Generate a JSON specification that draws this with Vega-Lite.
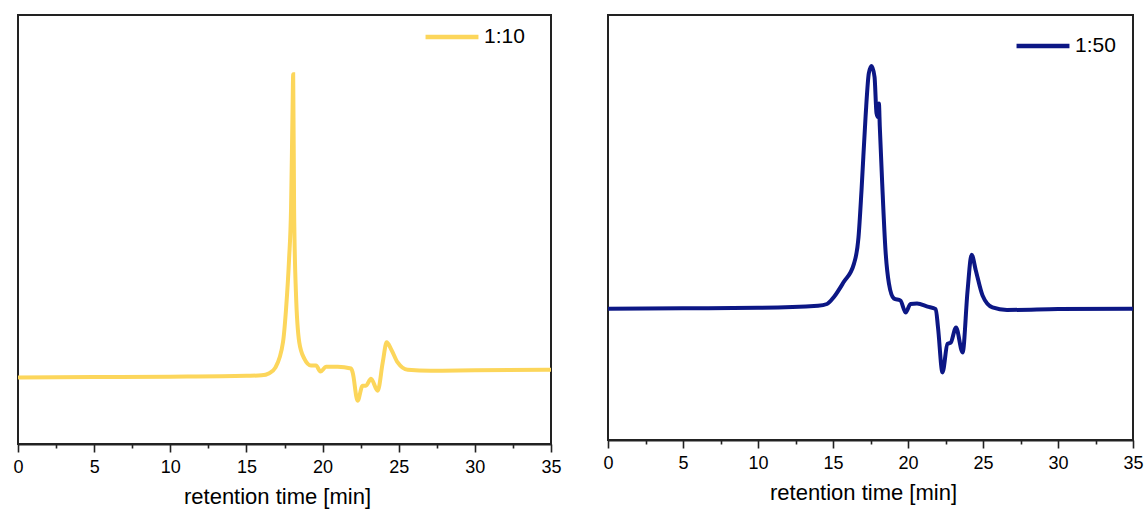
{
  "$schema": "https://vega.github.io/schema/vega-lite/v6.json",
  "padding": {"left": 9, "top": 7, "right": 2, "bottom": 2},
  "bounds": "flush",
  "spacing": 57,
  "background": "white",
  "datasets": {
    "d": [
      {"s": "1:10", "t": 0, "v": 15.5},
      {"s": "1:10", "t": 5, "v": 15.6},
      {"s": "1:10", "t": 10, "v": 15.7},
      {"s": "1:10", "t": 15, "v": 15.9},
      {"s": "1:10", "t": 16, "v": 16.0},
      {"s": "1:10", "t": 16.5, "v": 16.5},
      {"s": "1:10", "t": 16.9, "v": 17.8},
      {"s": "1:10", "t": 17.4, "v": 23.7},
      {"s": "1:10", "t": 17.6, "v": 31.4},
      {"s": "1:10", "t": 17.8, "v": 43.1},
      {"s": "1:10", "t": 17.93, "v": 54.8},
      {"s": "1:10", "t": 18.03, "v": 78.2},
      {"s": "1:10", "t": 18.07, "v": 86.2},
      {"s": "1:10", "t": 18.13, "v": 54.8},
      {"s": "1:10", "t": 18.25, "v": 35.4},
      {"s": "1:10", "t": 18.47, "v": 23.7},
      {"s": "1:10", "t": 18.8, "v": 19.9},
      {"s": "1:10", "t": 19.24, "v": 18.3},
      {"s": "1:10", "t": 19.57, "v": 18.3},
      {"s": "1:10", "t": 19.86, "v": 16.9},
      {"s": "1:10", "t": 20.23, "v": 18.0},
      {"s": "1:10", "t": 20.99, "v": 18.0},
      {"s": "1:10", "t": 21.87, "v": 17.6},
      {"s": "1:10", "t": 21.98, "v": 16.6},
      {"s": "1:10", "t": 22.3, "v": 10.1},
      {"s": "1:10", "t": 22.63, "v": 13.6},
      {"s": "1:10", "t": 22.85, "v": 13.6},
      {"s": "1:10", "t": 23.18, "v": 15.2},
      {"s": "1:10", "t": 23.62, "v": 12.4},
      {"s": "1:10", "t": 23.95, "v": 19.0},
      {"s": "1:10", "t": 24.21, "v": 23.7},
      {"s": "1:10", "t": 24.5, "v": 22.1},
      {"s": "1:10", "t": 24.93, "v": 19.0},
      {"s": "1:10", "t": 25.59, "v": 17.3},
      {"s": "1:10", "t": 27.1, "v": 17.1},
      {"s": "1:10", "t": 30, "v": 17.2},
      {"s": "1:10", "t": 35, "v": 17.3},
      {"s": "1:50", "t": 0, "v": 30.9},
      {"s": "1:50", "t": 5, "v": 31.0},
      {"s": "1:50", "t": 10, "v": 31.1},
      {"s": "1:50", "t": 14, "v": 31.6},
      {"s": "1:50", "t": 14.6, "v": 32.0},
      {"s": "1:50", "t": 15.05, "v": 33.6},
      {"s": "1:50", "t": 15.7, "v": 37.1},
      {"s": "1:50", "t": 16.4, "v": 41.5},
      {"s": "1:50", "t": 16.7, "v": 47.7},
      {"s": "1:50", "t": 16.9, "v": 58.7},
      {"s": "1:50", "t": 17.17, "v": 76.0},
      {"s": "1:50", "t": 17.39, "v": 86.3},
      {"s": "1:50", "t": 17.57, "v": 88.0},
      {"s": "1:50", "t": 17.77, "v": 85.4},
      {"s": "1:50", "t": 17.9, "v": 76.9},
      {"s": "1:50", "t": 17.99, "v": 76.0},
      {"s": "1:50", "t": 18.06, "v": 79.2},
      {"s": "1:50", "t": 18.12, "v": 73.7},
      {"s": "1:50", "t": 18.28, "v": 60.4},
      {"s": "1:50", "t": 18.5, "v": 44.6},
      {"s": "1:50", "t": 18.73, "v": 36.8},
      {"s": "1:50", "t": 19.06, "v": 33.3},
      {"s": "1:50", "t": 19.5, "v": 32.8},
      {"s": "1:50", "t": 19.84, "v": 30.0},
      {"s": "1:50", "t": 20.17, "v": 32.0},
      {"s": "1:50", "t": 20.6, "v": 32.1},
      {"s": "1:50", "t": 21.3, "v": 31.4},
      {"s": "1:50", "t": 21.85, "v": 30.8},
      {"s": "1:50", "t": 22.0, "v": 26.5},
      {"s": "1:50", "t": 22.3, "v": 15.9},
      {"s": "1:50", "t": 22.63, "v": 22.6},
      {"s": "1:50", "t": 22.85, "v": 22.9},
      {"s": "1:50", "t": 23.2, "v": 26.5},
      {"s": "1:50", "t": 23.64, "v": 20.6},
      {"s": "1:50", "t": 23.97, "v": 35.1},
      {"s": "1:50", "t": 24.24, "v": 43.6},
      {"s": "1:50", "t": 24.52, "v": 39.9},
      {"s": "1:50", "t": 24.97, "v": 34.0},
      {"s": "1:50", "t": 25.63, "v": 31.2},
      {"s": "1:50", "t": 26.6, "v": 30.6},
      {"s": "1:50", "t": 30, "v": 30.8},
      {"s": "1:50", "t": 35, "v": 30.9}
    ]
  },
  "config": {
    "view": {"stroke": "#222222", "strokeWidth": 2},
    "axis": {
      "grid": false,
      "domainColor": "#222222",
      "domainWidth": 2,
      "tickColor": "#222222",
      "tickWidth": 1.6,
      "labelColor": "black",
      "titleColor": "black",
      "labelFont": "Liberation Sans",
      "titleFont": "Liberation Sans",
      "labelFontSize": 18,
      "titleFontSize": 22,
      "titleFontWeight": "normal",
      "labelFlush": false,
      "labelOverlap": false
    }
  },
  "resolve": {"scale": {"color": "independent"}, "legend": {"color": "independent"}},
  "hconcat": [
    {
      "width": 533,
      "height": 429,
      "data": {"name": "d"},
      "transform": [{"filter": "datum.s === '1:10'"}],
      "resolve": {"axis": {"x": "independent"}},
      "layer": [
        {
          "mark": {"type": "line", "interpolate": "monotone", "strokeWidth": 4},
          "encoding": {
            "x": {"field": "t", "type": "quantitative", "scale": {"domain": [0, 35], "nice": false},
              "axis": {"values": [0, 5, 10, 15, 20, 25, 30, 35], "tickSize": 8, "labelPadding": 6, "title": "retention time [min]", "titlePadding": 10, "titleX": 259, "titleAlign": "center"}},
            "y": {"field": "v", "type": "quantitative", "scale": {"domain": [0, 100]}, "axis": null},
            "color": {"field": "s", "type": "nominal", "scale": {"domain": ["1:10"], "range": ["#FCD65B"]},
              "legend": {"orient": "none", "legendX": 405, "legendY": -7, "title": null, "symbolType": "stroke", "symbolSize": 2800, "symbolStrokeWidth": 4.5, "labelFontSize": 21, "labelFont": "Liberation Sans", "labelColor": "black", "labelOffset": 3}}
          }
        },
        {
          "mark": {"type": "line", "strokeOpacity": 0},
          "encoding": {
            "x": {"field": "t", "type": "quantitative", "scale": {"domain": [0, 35], "nice": false},
              "axis": {"orient": "bottom", "values": [2.5, 7.5, 12.5, 17.5, 22.5, 27.5, 32.5], "tickSize": 4, "labels": false, "domain": false, "title": null}},
            "y": {"field": "v", "type": "quantitative", "scale": {"domain": [0, 100]}, "axis": null}
          }
        }
      ]
    },
    {
      "width": 525,
      "height": 425,
      "data": {"name": "d"},
      "transform": [{"filter": "datum.s === '1:50'"}],
      "resolve": {"axis": {"x": "independent"}},
      "layer": [
        {
          "mark": {"type": "line", "interpolate": "monotone", "strokeWidth": 4},
          "encoding": {
            "x": {"field": "t", "type": "quantitative", "scale": {"domain": [0, 35], "nice": false},
              "axis": {"values": [0, 5, 10, 15, 20, 25, 30, 35], "tickSize": 8, "labelPadding": 6, "title": "retention time [min]", "titlePadding": 10, "titleX": 255, "titleAlign": "center"}},
            "y": {"field": "v", "type": "quantitative", "scale": {"domain": [0, 100]}, "axis": null},
            "color": {"field": "s", "type": "nominal", "scale": {"domain": ["1:50"], "range": ["#0C1785"]},
              "legend": {"orient": "none", "legendX": 406, "legendY": 2, "title": null, "symbolType": "stroke", "symbolSize": 2800, "symbolStrokeWidth": 4.5, "labelFontSize": 21, "labelFont": "Liberation Sans", "labelColor": "black", "labelOffset": 3}}
          }
        },
        {
          "mark": {"type": "line", "strokeOpacity": 0},
          "encoding": {
            "x": {"field": "t", "type": "quantitative", "scale": {"domain": [0, 35], "nice": false},
              "axis": {"orient": "bottom", "values": [2.5, 7.5, 12.5, 17.5, 22.5, 27.5, 32.5], "tickSize": 4, "labels": false, "domain": false, "title": null}},
            "y": {"field": "v", "type": "quantitative", "scale": {"domain": [0, 100]}, "axis": null}
          }
        }
      ]
    }
  ]
}
